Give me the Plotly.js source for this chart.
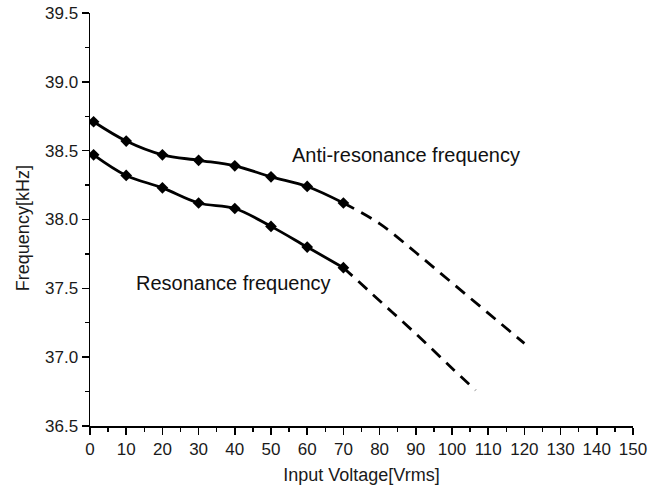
<!DOCTYPE html>
<html>
<head>
<meta charset="utf-8">
<script src="https://cdn.plot.ly/plotly-3.0.1.min.js"></script>
<style>html,body{margin:0;padding:0;background:#fff;}#chart{width:661px;height:492px;}</style>
</head>
<body>
<div id="chart"></div>
<script>
// Measured data (solid, with markers)
const voltage = [1, 10, 20, 30, 40, 50, 60, 70];
const antiResonance = [38.71, 38.57, 38.47, 38.43, 38.39, 38.31, 38.24, 38.12];
const resonance = [38.47, 38.32, 38.23, 38.12, 38.08, 37.95, 37.80, 37.65];

// Extrapolated trends (dashed)
const antiTrendV = [70, 80, 90, 100, 110, 120];
const antiTrend = [38.12, 37.97, 37.76, 37.54, 37.32, 37.10];
const resTrendV = [70, 80, 90, 100, 106.5];
const resTrend = [37.65, 37.41, 37.17, 36.92, 36.76];

const xTicks = [0,10,20,30,40,50,60,70,80,90,100,110,120,130,140,150];
const yTicks = [36.5, 37.0, 37.5, 38.0, 38.5, 39.0, 39.5];

const font = 'Liberation Sans, Arial, sans-serif';

const traces = [
  {x: antiTrendV, y: antiTrend, mode: 'lines', line: {color: '#000', width: 2.8, dash: '12px,8px', shape: 'spline'}, hoverinfo: 'skip'},
  {x: resTrendV, y: resTrend, mode: 'lines', line: {color: '#000', width: 2.8, dash: '12px,8px', shape: 'spline'}, hoverinfo: 'skip'},
  {x: voltage, y: antiResonance, mode: 'lines+markers', line: {color: '#000', width: 2.8, shape: 'spline'},
   marker: {symbol: 'diamond', size: 9, color: '#000'}},
  {x: voltage, y: resonance, mode: 'lines+markers', line: {color: '#000', width: 2.8, shape: 'spline'},
   marker: {symbol: 'diamond', size: 9, color: '#000'}}
];

const layout = {
  width: 661, height: 492,
  margin: {l: 90, r: 28, t: 13, b: 66},
  paper_bgcolor: '#fff', plot_bgcolor: '#fff',
  showlegend: false,
  font: {family: font, color: '#222', size: 16},
  xaxis: {
    range: [0, 150], tickvals: xTicks, ticktext: xTicks.map(String),
    showgrid: false, zeroline: false, showline: true, linecolor: '#000', linewidth: 1.5,
    ticks: 'outside', ticklen: 7, tickwidth: 1.5, tickcolor: '#000',
    minor: {dtick: 5, ticks: 'outside', ticklen: 4, tickwidth: 1.3, tickcolor: '#000', showgrid: false},
    tickfont: {family: font, size: 17, color: '#1a1a1a'},
    title: {text: 'Input Voltage[Vrms]', font: {family: font, size: 18, color: '#1a1a1a'}, standoff: 10}
  },
  yaxis: {
    range: [36.5, 39.5], tickvals: yTicks, ticktext: yTicks.map(v => v.toFixed(1)),
    showgrid: false, zeroline: false, showline: true, linecolor: '#000', linewidth: 1.5,
    ticks: 'outside', ticklen: 7, tickwidth: 1.5, tickcolor: '#000',
    minor: {dtick: 0.25, ticks: 'outside', ticklen: 4, tickwidth: 1.3, tickcolor: '#000', showgrid: false},
    tickfont: {family: font, size: 17, color: '#1a1a1a'}
  },
  annotations: [
    {x: -0.1234, y: 0.479, xref: 'paper', yref: 'paper', text: 'Frequency[kHz]', textangle: -90, showarrow: false,
     xanchor: 'center', yanchor: 'middle', font: {family: font, size: 18, color: '#1a1a1a'}},
    {x: 55.2, y: 38.47, xref: 'x', yref: 'y', text: 'Anti-resonance frequency', showarrow: false,
     xanchor: 'left', yanchor: 'middle', font: {family: font, size: 20, color: '#111'}},
    {x: 12.2, y: 37.54, xref: 'x', yref: 'y', text: 'Resonance frequency', showarrow: false,
     xanchor: 'left', yanchor: 'middle', font: {family: font, size: 20, color: '#111'}}
  ]
};

Plotly.newPlot('chart', traces, layout, {displayModeBar: false, staticPlot: true});
</script>
</body>
</html>
